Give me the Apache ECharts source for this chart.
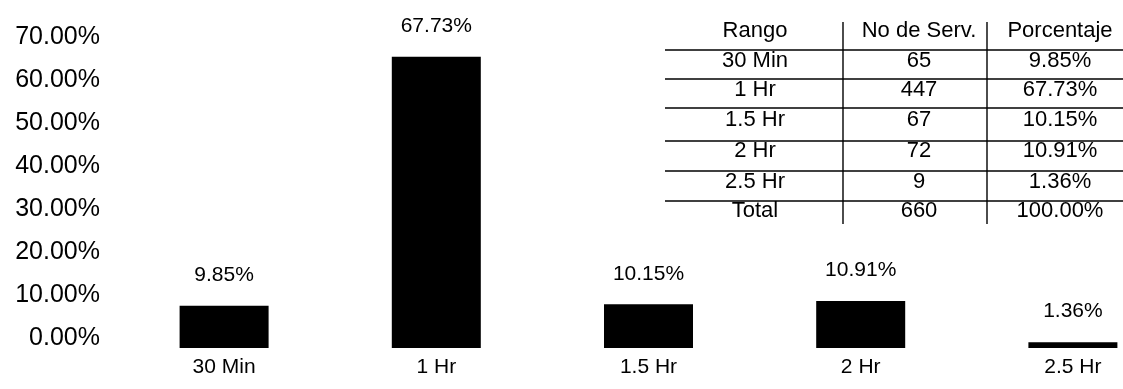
<!DOCTYPE html>
<html>
<head>
<meta charset="utf-8">
<script src="https://cdn.jsdelivr.net/npm/echarts@6/dist/echarts.min.js"></script>
<style>
html,body{margin:0;padding:0;background:#fff;}
#chart{width:1123px;height:389px;}
</style>
</head>
<body>
<div id="chart"></div>
<script>
// ---- data ----
var categories = ['30 Min', '1 Hr', '1.5 Hr', '2 Hr', '2.5 Hr'];
var percentages = [9.85, 67.73, 10.15, 10.91, 1.36];
var serviceCounts = [65, 447, 67, 72, 9];
var totalCount = 660;
var totalPercent = 100.00;
var tableHeaders = ['Rango', 'No de Serv.', 'Porcentaje'];
var totalLabel = 'Total';
var yTicks = [0, 10, 20, 30, 40, 50, 60, 70];

var FONT = '"Liberation Sans", Arial, sans-serif';
function pct(v){ return v.toFixed(2) + '%'; }

// ---- table (annotation) ----
var colX = [755, 919, 1060];
var headerY = 31;
var rowY = [61, 90, 120, 151, 182, 211];
var hLineY = [50, 79, 108, 141, 171, 201];
var vLineX = [843, 987];

var tableRows = categories.map(function(c, i){
  return [c, String(serviceCounts[i]), pct(percentages[i])];
});
tableRows.push([totalLabel, String(totalCount), pct(totalPercent)]);

var graphics = [];
function txt(x, y, s){
  graphics.push({
    type: 'text', x: x, y: y,
    style: { text: s, fill: '#000', font: '22px ' + FONT, textAlign: 'center', textVerticalAlign: 'middle' },
    z: 10
  });
}
tableHeaders.forEach(function(h, j){ txt(colX[j], headerY, h); });
tableRows.forEach(function(r, i){
  r.forEach(function(s, j){ txt(colX[j], rowY[i], s); });
});
hLineY.forEach(function(y){
  graphics.push({ type: 'line', shape: { x1: 665, y1: y, x2: 1123, y2: y },
    style: { stroke: '#000', lineWidth: 1.6 }, z: 10 });
});
vLineX.forEach(function(x){
  graphics.push({ type: 'line', shape: { x1: x, y1: 22, x2: x, y2: 224 },
    style: { stroke: '#000', lineWidth: 1.4 }, z: 10 });
});

var chart = echarts.init(document.getElementById('chart'), null, { renderer: 'canvas' });
chart.setOption({
  animation: false,
  backgroundColor: '#fff',
  grid: { left: 118, top: 47, width: 1061, bottom: 41, containLabel: false, outerBoundsMode: 'none' },
  xAxis: {
    type: 'category',
    data: categories,
    axisLine: { show: false },
    axisTick: { show: false },
    axisLabel: { color: '#000', fontSize: 21, fontFamily: FONT, margin: 9 }
  },
  yAxis: {
    type: 'value',
    min: yTicks[0],
    max: yTicks[yTicks.length - 1],
    interval: 10,
    splitLine: { show: false },
    axisLine: { show: false },
    axisTick: { show: false },
    axisLabel: {
      color: '#000', fontSize: 25, fontFamily: FONT, margin: 18,
      verticalAlign: 'bottom', lineHeight: 19,
      formatter: function(v){ return pct(v); }
    }
  },
  series: [{
    type: 'bar',
    data: percentages,
    barWidth: 89,
    itemStyle: { color: '#000' },
    label: {
      show: true, position: 'top', distance: 20,
      color: '#000', fontSize: 21, fontFamily: FONT,
      formatter: function(p){ return pct(p.value); }
    }
  }],
  graphic: graphics
});
</script>
</body>
</html>
